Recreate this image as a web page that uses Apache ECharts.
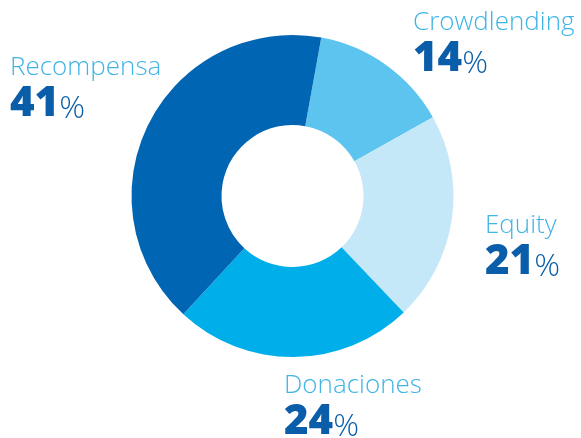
<!DOCTYPE html>
<html>
<head>
<meta charset="utf-8">
<script src="https://cdn.jsdelivr.net/npm/echarts@6/dist/echarts.min.js"></script>
<style>html,body{margin:0;padding:0;background:#fff}#c{width:581px;height:438px}</style>
</head>
<body>
<div id="c"></div>
<script>
const categories = ['Crowdlending', 'Equity', 'Donaciones', 'Recompensa'];
const values = [14, 21, 24, 41];
const colors = ['#5cc4ef', '#c5e8f8', '#00aeea', '#0066b3'];
// label anchor (left/top) per slice
const labelPos = [[413, 8], [485, 211], [284, 371], [10, 53]];

const chart = echarts.init(document.getElementById('c'), null, {renderer: 'canvas'});
chart.setOption({
  animation: false,
  series: [{
    type: 'pie',
    center: [292.5, 196],
    radius: [71, 161],
    startAngle: 79.7,
    clockwise: true,
    avoidLabelOverlap: false,
    data: categories.map((n, i) => ({name: n, value: values[i], itemStyle: {color: colors[i]}})),
    label: {
      show: true,
      position: 'outside',
      formatter: p => '{name|' + p.name + '}\n{num|' + p.value + '}{pct|%}',
      rich: {
        name: {fontFamily: 'Open Sans', fontWeight: 300, fontSize: 26, color: '#3fb4e5', lineHeight: 30},
        num: {fontFamily: 'Open Sans', fontWeight: 800, fontSize: 42, color: '#0a5ea9', lineHeight: 42},
        pct: {fontFamily: 'Open Sans', fontWeight: 300, fontSize: 32, color: '#0a5ea9', lineHeight: 42, verticalAlign: 'bottom'}
      }
    },
    labelLine: {show: false},
    labelLayout: p => ({x: labelPos[p.dataIndex][0], y: labelPos[p.dataIndex][1], align: 'left', verticalAlign: 'top'}),
    emphasis: {disabled: true}
  }]
});
</script>
</body>
</html>
